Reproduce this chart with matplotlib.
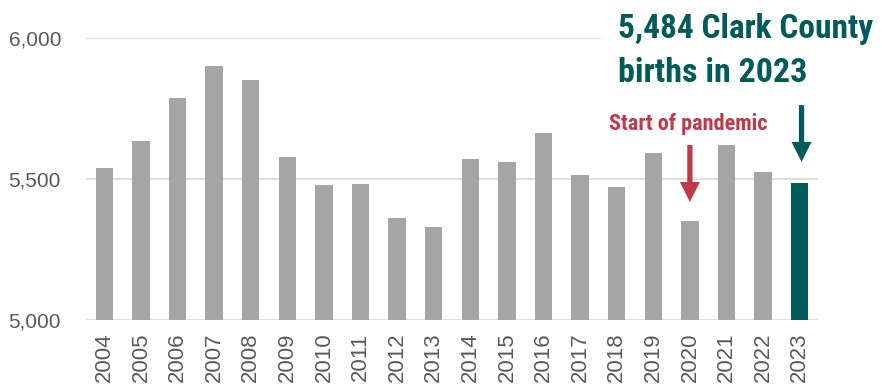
import matplotlib
matplotlib.use("Agg")
import matplotlib.pyplot as plt

years = ["2004", "2005", "2006", "2007", "2008", "2009", "2010", "2011", "2012", "2013",
         "2014", "2015", "2016", "2017", "2018", "2019", "2020", "2021", "2022", "2023"]
births = [5540, 5633, 5787, 5900, 5850, 5576, 5478, 5483, 5360, 5328,
          5569, 5560, 5663, 5514, 5470, 5590, 5352, 5620, 5526, 5484]
yticks = [5000, 5500, 6000]
ytick_labels = ["5,000", "5,500", "6,000"]

GRAY = "#A5A5A5"
TEAL = "#005A5A"
RED = "#C0394B"
TXT = "#595959"

fig = plt.figure(figsize=(8.82, 3.85), dpi=100)
ax = fig.add_axes([86/882, 1-320/385, (818-86)/882, (320-37.7)/385])

x = list(range(len(years)))
colors = [GRAY]*(len(years)-1) + [TEAL]
ax.bar(x, [b - 5000 for b in births], bottom=5000, width=0.48, color=colors, zorder=2)

ax.set_xlim(-0.5, len(years)-0.5)
ax.set_ylim(5000, 6000)
ax.set_yticks(yticks)
ax.set_yticklabels(ytick_labels)
ax.set_xticks(x)
ax.set_xticklabels(years, rotation=90)
for s in ax.spines.values():
    s.set_visible(False)
ax.tick_params(length=0, colors=TXT)
for lab in ax.get_yticklabels():
    lab.set_fontsize(15)
    lab.set_family("Liberation Sans")
for lab in ax.get_xticklabels():
    lab.set_fontsize(16)
    lab.set_family("Liberation Sans")
ax.tick_params(axis="y", pad=18)
ax.tick_params(axis="x", pad=9)
ax.grid(axis="y", color="#D9D9D9", linewidth=1.2, zorder=0)
ax.set_axisbelow(True)

narrow = ["Roboto Condensed", "Asap Condensed", "Archivo Narrow", "Liberation Sans Narrow", "DejaVu Sans"]

# Teal headline
fig.text(618/882, 1-38/385, "5,484 Clark County", color=TEAL,
         fontsize=24, fontweight="bold", family=narrow, ha="left", va="baseline",
         zorder=5, bbox=dict(facecolor="white", edgecolor="none", pad=12))
fig.text(618/882, 1-82/385, "births in 2023", color=TEAL,
         fontsize=24.5, fontweight="bold", family=narrow, ha="left", va="baseline",
         zorder=5)

# Red annotation
i20 = years.index("2020")
ax.text(i20 - 0.05, births[i20] + 321, "Start of pandemic", color=RED, fontsize=16,
        fontweight="bold", family=narrow, ha="center", va="baseline", zorder=6)
ax.annotate("", xy=(i20, births[i20] + 66), xytext=(i20, births[i20] + 268),
            arrowprops=dict(facecolor=RED, edgecolor="none", width=3.8,
                            headwidth=14.4, headlength=14.4, shrink=0), zorder=6)

i23 = years.index("2023")
ax.annotate("", xy=(i23 + 0.05, births[i23] + 76), xytext=(i23 + 0.05, births[i23] + 277),
            arrowprops=dict(facecolor=TEAL, edgecolor="none", width=3.8,
                            headwidth=14.4, headlength=14.4, shrink=0), zorder=6)

fig.savefig("out.png", dpi=100)
